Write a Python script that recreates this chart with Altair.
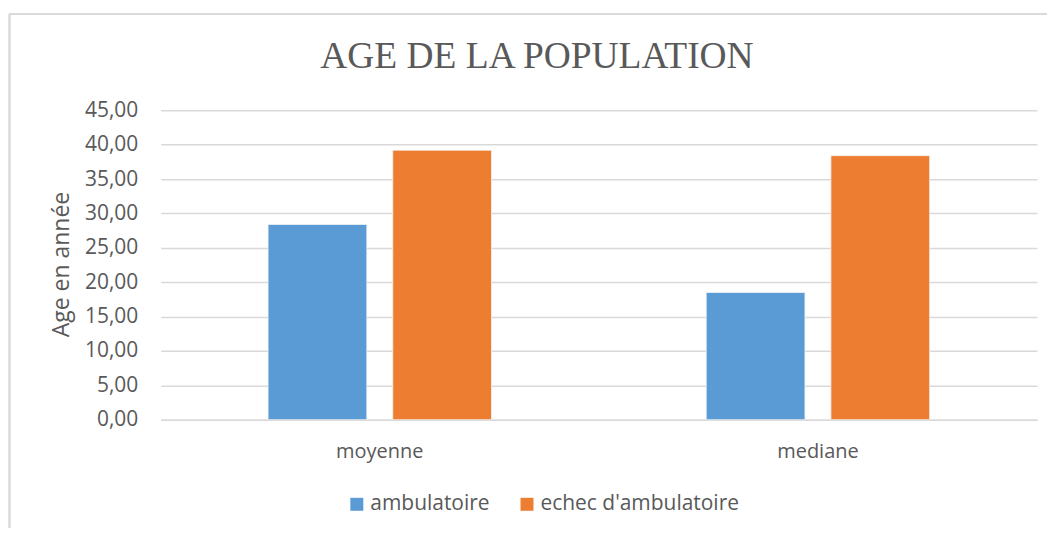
import altair as alt
import pandas as pd

categories = ["moyenne", "mediane"]
series = ["ambulatoire", "echec d'ambulatoire"]
ambulatoire = [28.4, 18.5]
echec = [39.2, 38.4]
y_ticks = [0, 5, 10, 15, 20, 25, 30, 35, 40, 45]
colors = ["#5B9BD5", "#ED7D31"]

rows = []
for i, c in enumerate(categories):
    rows.append({"cat": c, "serie": series[0], "val": ambulatoire[i]})
    rows.append({"cat": c, "serie": series[1], "val": echec[i]})
df = pd.DataFrame(rows)

TXT = "#595959"
GRID = "#D9D9D9"

bars = alt.Chart(df).mark_bar(stroke="#F2F2F2", strokeWidth=0.8).encode(
    x=alt.X("cat:N", sort=categories,
            scale=alt.Scale(paddingInner=0.49, paddingOuter=0.245),
            axis=alt.Axis(title=None, labelAngle=0, ticks=False, domain=True,
                          domainColor=GRID, domainWidth=1.5,
                          labelFont="Open Sans", labelFontSize=20,
                          labelColor=TXT, labelPadding=22)),
    xOffset=alt.XOffset("serie:N", sort=series,
                        scale=alt.Scale(paddingInner=0.208, paddingOuter=0)),
    y=alt.Y("val:Q", scale=alt.Scale(domain=[0, 45], nice=False),
            axis=alt.Axis(values=y_ticks, title="Age en année",
                          labelExpr="replace(format(datum.value, '.2f'), '.', ',')",
                          ticks=False, domain=False, grid=True,
                          gridColor=GRID, gridWidth=1.5,
                          labelFont="Open Sans", labelFontSize=21,
                          labelColor=TXT, labelPadding=23,
                          titleFont="Open Sans", titleFontSize=23,
                          titleFontWeight="normal", titleColor=TXT,
                          titleX=-99, titleY=154, titleAngle=-90,
                          titleAlign="center", titleBaseline="middle")),
    color=alt.Color("serie:N", sort=series,
                    scale=alt.Scale(domain=series, range=colors),
                    legend=alt.Legend(title=None, orient="none",
                                      legendX=186, legendY=384,
                                      direction="horizontal",
                                      symbolType="square", symbolSize=169,
                                      symbolStrokeWidth=0,
                                      labelFont="Open Sans", labelFontSize=21,
                                      labelColor=TXT, labelOffset=3,
                                      labelLimit=400,
                                      columnPadding=26.5)),
)

frame_top = alt.Chart(df).mark_rule(color=GRID, strokeWidth=1.5).encode(
    x=alt.value(-151.5), x2=alt.value(900), y=alt.value(-96.5))
frame_left = alt.Chart(df).mark_rule(color=GRID, strokeWidth=1.5).encode(
    x=alt.value(-151.5), y=alt.value(-96.5), y2=alt.value(430))

chart = alt.layer(bars, frame_top, frame_left).properties(
    width=878, height=310,
    autosize=alt.AutoSizeParams(type="none"),
    padding={"left": 153, "top": 102, "right": 10, "bottom": 108},
    background="white",
    title=alt.TitleParams("AGE DE LA POPULATION", font="Liberation Serif",
                          fontSize=37.5, fontWeight="normal", color=TXT,
                          anchor="middle", dx=-62, baseline="alphabetic",
                          offset=-92),
).configure_view(stroke=None)

chart.save("out.html", embed_options={"renderer": "svg", "actions": False})
